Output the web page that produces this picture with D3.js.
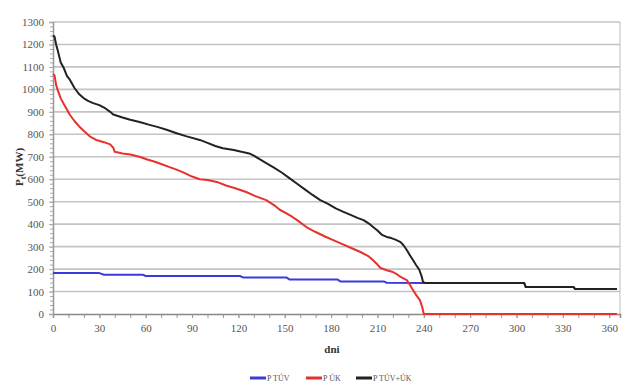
<!DOCTYPE html>
<html>
<head>
<meta charset="utf-8">
<script src="https://cdn.jsdelivr.net/npm/d3@7"></script>
<style>
	body { margin: 0; background: #fff; }
	svg text { font-family: 'Times New Roman', 'Liberation Serif', serif; }
</style>
</head>
<body>
<div id="chart"></div>
<script>
// values (day of year -> MW)
const tuvDays = [0, 30, 33, 58, 60, 121, 123, 151, 153, 184, 186, 214, 216, 241, 305, 306, 337, 338, 365]
const tuvValues = [182, 182, 175, 175, 169, 169, 163, 163, 154, 154, 145, 145, 139, 138, 138, 120, 120, 111, 111]

const ukDays = [0, 1, 2, 3, 5, 7, 9, 11, 14, 17, 20, 24, 28, 33, 37, 39, 40, 45, 50, 56, 61, 66, 70, 75, 80, 85, 90, 95, 100, 106, 112, 118, 125, 131, 138, 143, 147, 152, 155, 158, 164, 170, 176, 181, 187, 193, 199, 204, 207, 210, 212, 216, 220, 223, 225, 229, 231, 233, 235, 237.5, 239, 240, 365]
const ukValues = [1068, 1062, 1020, 998, 960, 935, 910, 886, 858, 835, 815, 790, 775, 765, 755, 740, 722, 715, 710, 700, 688, 678, 668, 655, 643, 628, 612, 600, 597, 588, 572, 560, 543, 525, 507, 485, 463, 445, 432, 418, 387, 365, 345, 330, 312, 294, 276, 258, 240, 220, 205, 195, 187, 175, 165, 151, 130, 107, 85, 62, 30, 0, 0]

const totalDays = [0, 1, 2, 3, 5, 7, 9, 11, 14, 17, 20, 23, 26, 30, 34, 37, 39, 45, 50, 56, 62, 68, 74, 80, 86, 95, 100, 105, 110, 117, 122, 127, 130, 134, 138, 143, 148, 153, 158, 163, 168, 173, 178, 183, 188, 193, 197, 201, 205, 210, 213, 216, 219, 222, 225, 227, 229, 231, 233, 235, 237, 238.5, 239.5, 241, 305, 306, 337, 338, 365]
const totalValues = [1240, 1235, 1200, 1175, 1120, 1095, 1060, 1042, 1005, 978, 960, 948, 939, 930, 915, 900, 888, 875, 865, 855, 843, 832, 819, 805, 792, 775, 762, 748, 738, 730, 722, 715, 705, 688, 672, 652, 630, 605, 580, 555, 530, 507, 490, 470, 455, 440, 428, 418, 400, 372, 352, 343, 338, 330, 320, 305, 285, 262, 240, 218, 198, 170, 142, 138, 138, 120, 120, 111, 111]

const xTickLabels = [0, 30, 60, 90, 120, 150, 180, 210, 240, 270, 300, 330, 360]
const yTickLabels = [0, 100, 200, 300, 400, 500, 600, 700, 800, 900, 1000, 1100, 1200, 1300]

const seriesNames = ['P TÚV', 'P ÚK', 'P TÚV+ÚK']
const seriesColors = ['#3b3bdc', '#e8302c', '#222222']

const series = [
	{ name: seriesNames[0], color: seriesColors[0], points: tuvDays.map((d, i) => ({ day: d, value: tuvValues[i] })) },
	{ name: seriesNames[1], color: seriesColors[1], points: ukDays.map((d, i) => ({ day: d, value: ukValues[i] })) },
	{ name: seriesNames[2], color: seriesColors[2], points: totalDays.map((d, i) => ({ day: d, value: totalValues[i] })) }
]

const width = 625
const height = 387
const margin = { top: 22, right: 5, bottom: 73, left: 53 }
const innerWidth = width - margin.left - margin.right
const innerHeight = height - margin.top - margin.bottom
const serif = "'Times New Roman', 'Liberation Serif', serif"

const svg = d3.select('#chart').append('svg').attr('width', width).attr('height', height)
const chart = svg.append('g').attr('transform', `translate(${margin.left},${margin.top})`)

const x = d3.scaleLinear().domain([0, 367]).range([0, innerWidth])
const y = d3.scaleLinear().domain([0, 1300]).range([innerHeight, 0])

// horizontal grid
chart
	.append('g')
	.selectAll('line')
	.data(yTickLabels.filter((d) => d > 0))
	.join('line')
	.attr('x1', 0)
	.attr('x2', innerWidth)
	.attr('y1', (d) => y(d))
	.attr('y2', (d) => y(d))
	.attr('stroke', '#c4c4c4')
	.attr('stroke-width', 1.6)

// right border
chart
	.append('line')
	.attr('x1', innerWidth)
	.attr('x2', innerWidth)
	.attr('y1', 0)
	.attr('y2', innerHeight)
	.attr('stroke', '#c8c8c8')
	.attr('stroke-width', 1.2)

// minor ticks
chart
	.append('g')
	.attr('transform', `translate(0,${innerHeight})`)
	.call(d3.axisBottom(x).tickValues(d3.range(10, 366, 10)).tickSize(4).tickFormat(''))
	.call((g) => g.select('.domain').remove())
	.selectAll('line')
	.attr('stroke', '#999')

chart
	.append('g')
	.call(d3.axisLeft(y).tickValues(d3.range(0, 1301, 20)).tickSize(3).tickFormat(''))
	.call((g) => g.select('.domain').remove())
	.selectAll('line')
	.attr('stroke', '#aaa')

const xAxis = chart
	.append('g')
	.attr('transform', `translate(0,${innerHeight})`)
	.call(d3.axisBottom(x).tickValues(xTickLabels).tickFormat(d3.format('d')).tickSize(4).tickPadding(6))
xAxis.attr('font-family', serif).attr('font-size', 11)
xAxis.select('.domain').attr('stroke', '#888').attr('stroke-width', 1.5)
xAxis.selectAll('line').attr('stroke', '#999')
xAxis.selectAll('text').attr('fill', '#555')

const yAxis = chart
	.append('g')
	.call(d3.axisLeft(y).tickValues(yTickLabels).tickFormat(d3.format('d')).tickSize(4).tickPadding(5))
yAxis.attr('font-family', serif).attr('font-size', 11)
yAxis.select('.domain').attr('stroke', '#999').attr('stroke-width', 1.5)
yAxis.selectAll('line').attr('stroke', '#aaa')
yAxis.selectAll('text').attr('fill', '#555')

const line = d3
	.line()
	.x((d) => x(d.day))
	.y((d) => y(d.value))

chart
	.append('g')
	.selectAll('path')
	.data(series)
	.join('path')
	.attr('fill', 'none')
	.attr('stroke', (d) => d.color)
	.attr('stroke-width', 2)
	.attr('stroke-linejoin', 'round')
	.attr('d', (d) => line(d.points))

// axis titles
svg
	.append('text')
	.attr('x', 332)
	.attr('y', 353)
	.attr('text-anchor', 'middle')
	.attr('fill', '#333')
	.attr('font-family', serif)
	.attr('font-size', 11)
	.attr('font-weight', 'bold')
	.text('dni')

const yTitle = svg
	.append('text')
	.attr('transform', 'translate(23,167) rotate(-90)')
	.attr('text-anchor', 'middle')
	.attr('fill', '#333')
	.attr('font-family', serif)
	.attr('font-size', 11)
	.attr('font-weight', 'bold')
yTitle.append('tspan').text('P')
yTitle.append('tspan').attr('dy', 3).attr('font-size', 8).text('t')
yTitle.append('tspan').attr('dy', -3).text('(MW)')

// legend
const legendX = [250, 306, 356]
const legend = svg.append('g').attr('transform', 'translate(0,378)')
const item = legend
	.selectAll('g')
	.data(series)
	.join('g')
	.attr('transform', (_, i) => `translate(${legendX[i]},0)`)

item
	.append('line')
	.attr('x1', 0)
	.attr('x2', 16)
	.attr('stroke', (d) => d.color)
	.attr('stroke-width', 3)

item
	.append('text')
	.attr('x', 17)
	.attr('y', 3)
	.attr('fill', '#555')
	.attr('font-family', serif)
	.attr('font-size', 8)
	.text((d) => d.name)
</script>
</body>
</html>
